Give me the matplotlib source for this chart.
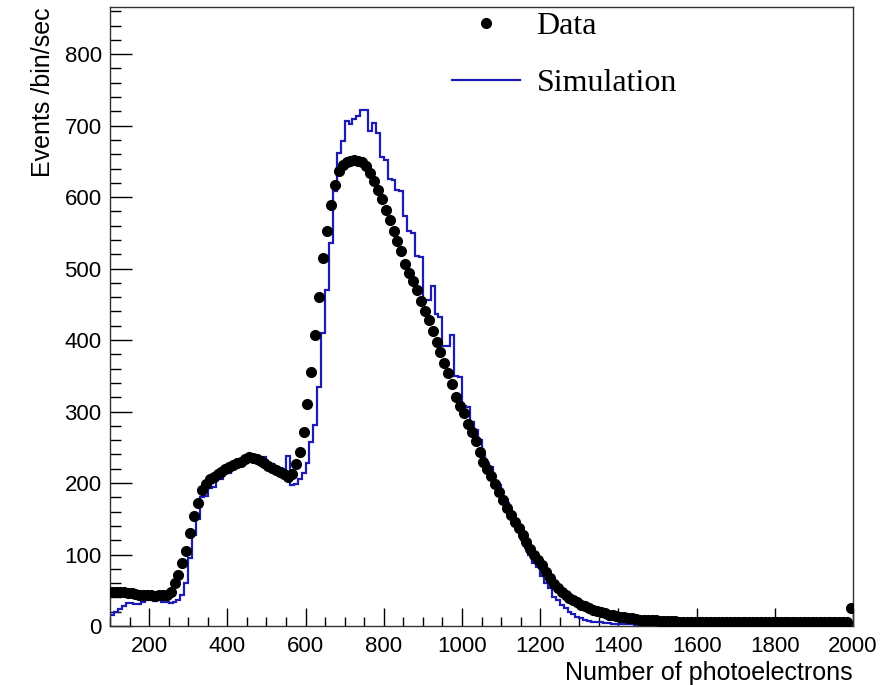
import matplotlib
matplotlib.use("Agg")
import matplotlib.pyplot as plt
import numpy as np
from matplotlib.ticker import MultipleLocator

# 10 p.e. bins from 100 to 2000
BIN_LO, BIN_HI, BIN_W = 100, 2000, 10

# measured rate per bin (black points)
data_rate = [
    48, 48, 47, 47, 46, 46, 45, 44, 44, 43,
    43, 42, 43, 43, 44, 48, 60, 72, 88, 105,
    130, 154, 172, 190, 199, 205, 209, 212, 216, 220,
    222, 225, 228, 230, 233, 236, 235, 234, 231, 228,
    224, 221, 218, 215, 212, 209, 213, 226, 244, 272,
    310, 356, 407, 460, 515, 553, 589, 617, 636, 645,
    649, 651, 652, 651, 649, 644, 634, 622, 610, 598,
    582, 568, 553, 538, 524, 507, 494, 482, 470, 455,
    441, 428, 413, 398, 384, 368, 354, 338, 321, 308,
    298, 283, 271, 259, 243, 230, 219, 210, 199, 187,
    176, 165, 155, 146, 137, 127, 117, 108, 100, 93,
    85, 76, 67, 59, 53, 47, 43, 39, 36, 33,
    30, 28, 25, 23, 21, 19, 18, 16, 15, 14,
    13, 12, 11, 11, 10, 9, 9, 8, 8, 8,
    7, 7, 7, 7, 7, 6, 6, 6, 6, 6,
    6, 6, 6, 6, 6, 6, 6, 6, 6, 6,
    5, 5, 6, 5, 5, 5, 5, 5, 5, 5,
    5, 5, 5, 5, 5, 5, 5, 5, 5, 5,
    5, 5, 5, 5, 5, 5, 5, 5, 5, 25,
]

# simulated rate per bin (blue histogram)
sim_rate = [
    15, 20, 24, 28, 32, 32, 31, 31, 34, 36,
    36, 35, 36, 34, 33, 32, 33, 36, 43, 60,
    95, 127, 150, 180, 182, 193, 195, 210, 205, 215,
    214, 219, 222, 226, 230, 231, 233, 238, 232, 237,
    227, 226, 222, 221, 220, 238, 197, 199, 205, 214,
    228, 258, 281, 335, 410, 470, 536, 609, 662, 678,
    706, 703, 709, 713, 722, 722, 693, 704, 690, 656,
    652, 626, 624, 610, 608, 573, 552, 550, 518, 516,
    456, 456, 476, 436, 433, 392, 392, 407, 350, 349,
    308, 306, 286, 274, 260, 240, 228, 222, 200, 197,
    181, 172, 158, 140, 132, 120, 109, 100, 88, 82,
    70, 60, 53, 40, 36, 30, 25, 20, 17, 13,
    11, 9, 7, 6, 5, 5, 4, 4, 3, 3,
    3, 3, 3, 3, 2, 2, 2, 2, 2, 2,
    2, 2, 2, 2, 2, 2, 2, 2, 2, 2,
    2, 2, 2, 2, 2, 2, 2, 2, 2, 2,
    2, 2, 2, 2, 2, 2, 2, 2, 2, 2,
    2, 2, 2, 2, 2, 2, 2, 2, 2, 2,
    2, 2, 2, 2, 2, 2, 2, 2, 2, 2,
]

SANS = ["Liberation Sans", "DejaVu Sans"]
SERIF = ["Liberation Serif", "DejaVu Serif"]
SIM_BLUE = "#1c1cb4"


def main() -> None:
    edges = np.arange(BIN_LO, BIN_HI + BIN_W, BIN_W)
    centres = 0.5 * (edges[:-1] + edges[1:])

    fig = plt.figure(figsize=(8.84, 6.85), dpi=100)
    ax = fig.add_axes([110 / 884, 59 / 685, 743 / 884, 619 / 685])

    ax.stairs(sim_rate, edges, color=SIM_BLUE, linewidth=1.6, baseline=None,
              zorder=2)
    pts, = ax.plot(centres, data_rate, "o", color="black", markersize=7,
                   zorder=3)

    ax.set_xlim(BIN_LO, BIN_HI)
    ax.set_ylim(0, 866)

    # ROOT-like axes: inward ticks on left/bottom only
    ax.xaxis.set_major_locator(MultipleLocator(200))
    ax.xaxis.set_minor_locator(MultipleLocator(50))
    ax.yaxis.set_major_locator(MultipleLocator(100))
    ax.yaxis.set_minor_locator(MultipleLocator(20))
    ax.tick_params(axis="x", which="major", direction="in", length=13, width=1,
                   pad=7, labelsize=16)
    ax.tick_params(axis="x", which="minor", direction="in", length=6.5, width=1)
    ax.tick_params(axis="y", which="major", direction="in", length=16, width=1,
                   pad=6, labelsize=16)
    ax.tick_params(axis="y", which="minor", direction="in", length=8, width=1)
    for lab in ax.get_xticklabels() + ax.get_yticklabels():
        lab.set_family(SANS)
    for sp in ax.spines.values():
        sp.set_linewidth(1.0)
        sp.set_color("#333333")

    ax.set_xlabel("Number of photoelectrons", loc="right", fontsize=18,
                  family=SANS, labelpad=3)
    ax.set_ylabel("Events /bin/sec", loc="top", fontsize=18, family=SANS,
                  labelpad=7)

    sim_line = plt.Line2D([], [], color=SIM_BLUE, linewidth=1.6)
    ax.legend([pts, sim_line], ["Data", "Simulation"],
              loc="upper left", bbox_to_anchor=(0.460, 0.993),
              frameon=False, borderpad=0, borderaxespad=0,
              handlelength=2.12, handletextpad=0.53, labelspacing=0.88,
              prop={"family": SERIF, "size": 23})

    fig.savefig("out.png", dpi=100)


if __name__ == "__main__":
    main()
